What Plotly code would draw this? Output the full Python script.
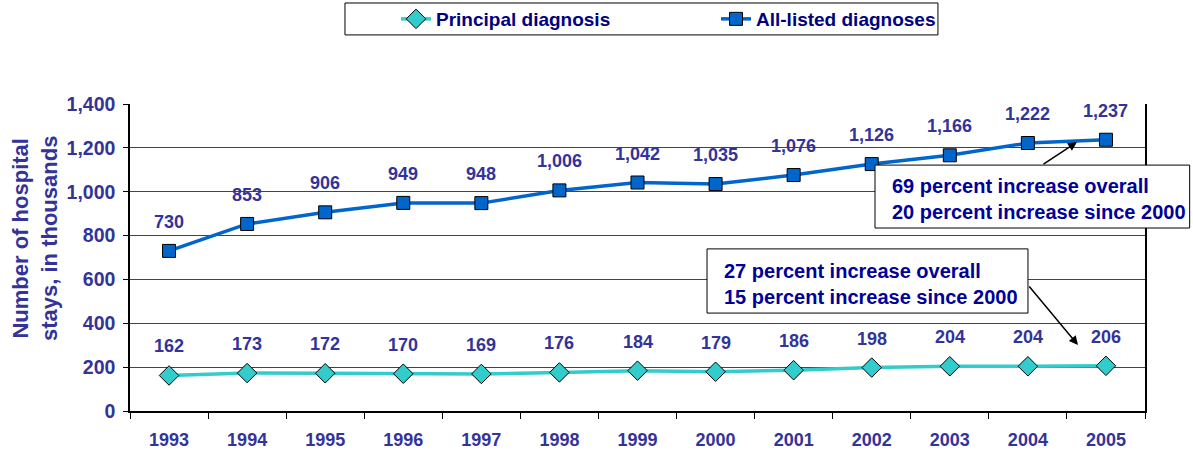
import plotly.graph_objects as go

years = ["1993", "1994", "1995", "1996", "1997", "1998", "1999",
         "2000", "2001", "2002", "2003", "2004", "2005"]
principal = [162, 173, 172, 170, 169, 176, 184, 179, 186, 198, 204, 204, 206]
all_listed = [730, 853, 906, 949, 948, 1006, 1042, 1035, 1076, 1126, 1166, 1222, 1237]
y_ticks = [0, 200, 400, 600, 800, 1000, 1200, 1400]
y_title = "Number of hospital<br>stays, in thousands"
note_all = "69 percent increase overall<br>20 percent increase since 2000"
note_prin = "27 percent increase overall<br>15 percent increase since 2000"

FONT = "Liberation Sans, Arial, sans-serif"
LABEL_COLOR = "#333399"
NOTE_COLOR = "#000099"

fig = go.Figure()
fig.add_trace(go.Scatter(
    x=years, y=principal, name="<b>Principal diagnosis</b>", mode="lines+markers",
    line=dict(color="#33CCCC", width=3.5),
    marker=dict(symbol="diamond", size=15, color="#33CCCC", line=dict(color="#000000", width=1)),
))
fig.add_trace(go.Scatter(
    x=years, y=all_listed, name="<b>All-listed diagnoses</b>", mode="lines+markers",
    line=dict(color="#0066CC", width=3.5),
    marker=dict(symbol="square", size=13, color="#0066CC", line=dict(color="#000000", width=1)),
))

annotations = []
for series in (principal, all_listed):
    for i, v in enumerate(series):
        annotations.append(dict(
            x=i, y=v, xref="x", yref="y", text=f"<b>{v:,}</b>", showarrow=False,
            yshift=29, font=dict(family=FONT, size=18, color=LABEL_COLOR),
        ))

# y-axis title
annotations.append(dict(xref="paper", yref="paper", x=-0.0936, y=0.5635, xanchor="center", yanchor="middle",
                        text=f"<b>{y_title}</b>", textangle=-90, showarrow=False,
                        font=dict(family=FONT, size=22, color=LABEL_COLOR)))
# note texts
annotations.append(dict(xref="paper", yref="paper", x=0.749, y=0.692, xanchor="left", yanchor="middle",
                        text=f"<b>{note_all}</b>", showarrow=False, align="left",
                        font=dict(family=FONT, size=20, color=NOTE_COLOR)))
annotations.append(dict(xref="paper", yref="paper", x=0.583, y=0.415, xanchor="left", yanchor="middle",
                        text=f"<b>{note_prin}</b>", showarrow=False, align="left",
                        font=dict(family=FONT, size=20, color=NOTE_COLOR)))
# arrows
annotations.append(dict(xref="paper", yref="paper", x=0.933, y=0.876, text="", showarrow=True,
                        ax=-35, ay=23, arrowhead=2, arrowsize=1.2, arrowwidth=1.5, arrowcolor="#000000"))
annotations.append(dict(xref="paper", yref="paper", x=0.934, y=0.215, text="", showarrow=True,
                        ax=-50, ay=-60, arrowhead=2, arrowsize=1.2, arrowwidth=1.5, arrowcolor="#000000"))

shapes = [
    dict(type="rect", xref="paper", yref="paper", x0=0.734, x1=1.044, y0=0.596, y1=0.801,
         line=dict(color="#000000", width=1), fillcolor="#FFFFFF", layer="above"),
    dict(type="rect", xref="paper", yref="paper", x0=0.5685, x1=0.8847, y0=0.319, y1=0.528,
         line=dict(color="#000000", width=1), fillcolor="#FFFFFF", layer="above"),
    # legend frame
    dict(type="rect", xref="paper", yref="paper", x0=0.2118, x1=0.796, y0=1.225, y1=1.329,
         line=dict(color="#000000", width=1), fillcolor="rgba(0,0,0,0)", layer="above"),
]

fig.update_layout(
    width=1193, height=454,
    margin=dict(l=130, r=48, t=104, b=43, autoexpand=False),
    paper_bgcolor="#FFFFFF", plot_bgcolor="#FFFFFF",
    font=dict(family=FONT, color=LABEL_COLOR),
    showlegend=True,
    legend=dict(orientation="h", xref="container", yref="container",
                x=396 / 1193, y=1 - 19 / 454, xanchor="left", yanchor="middle",
                borderwidth=0, bgcolor="rgba(0,0,0,0)",
                font=dict(family=FONT, size=19, color="#000080"),
                entrywidth=275, itemwidth=30),
    xaxis=dict(type="category", range=[-0.5, 12.5], tickson="boundaries", ticks="outside", ticklen=6,
               tickcolor="#000000", showline=True, linecolor="#000000", linewidth=1.5,
               mirror=False, showgrid=False, tickangle=0, ticklabelstandoff=12, automargin=False,
               tickfont=dict(family=FONT, size=18, color=LABEL_COLOR),
               tickprefix="<b>", ticksuffix="</b>"),
    yaxis=dict(range=[0, 1400], tickvals=y_ticks, ticktext=[f"<b>{v:,}</b>" for v in y_ticks],
               ticks="outside", ticklen=5, tickcolor="#000000", ticklabelstandoff=4, automargin=False,
               showline=True, linecolor="#000000", linewidth=1.5, mirror=True,
               showgrid=True, gridcolor="#444444", gridwidth=1, zeroline=False,
               tickfont=dict(family=FONT, size=19.5, color=LABEL_COLOR)),
    annotations=annotations, shapes=shapes,
)

fig.write_html("out.html", config={"displayModeBar": False},
               post_script="document.body.style.margin='0px';")
